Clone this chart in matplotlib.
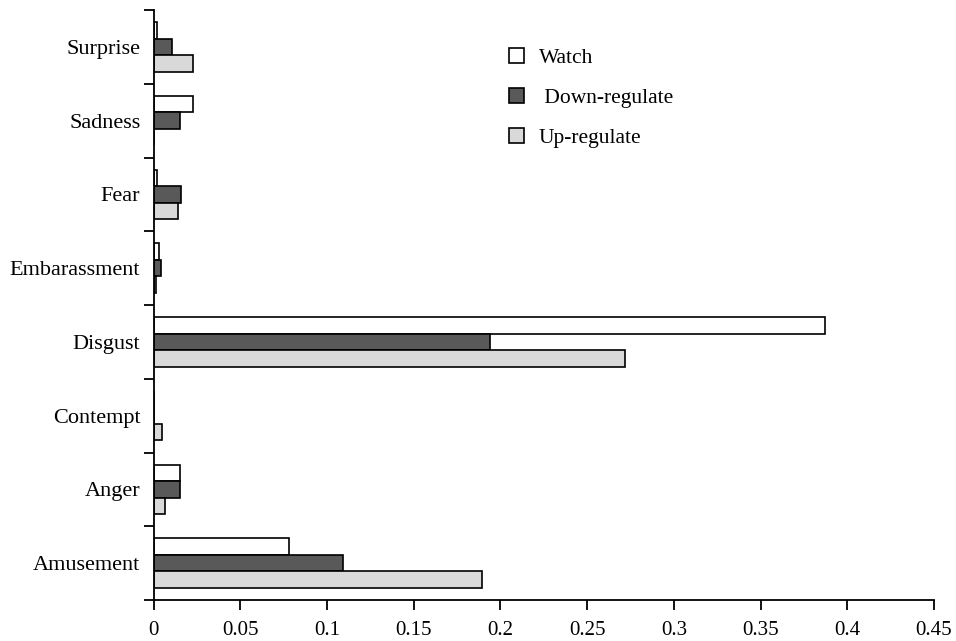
import numpy as np
import matplotlib.pyplot as plt

categories = ["Amusement", "Anger", "Contempt", "Disgust",
              "Embarassment", "Fear", "Sadness", "Surprise"]
watch = [0.0784, 0.0152, 0.0, 0.387, 0.003, 0.002, 0.0227, 0.002]
down_regulate = [0.1095, 0.0152, 0.0, 0.194, 0.0046, 0.016, 0.0152, 0.0104]
up_regulate = [0.1896, 0.0065, 0.0048, 0.272, 0.0017, 0.014, 0.0, 0.0227]
x_ticks = [0, 0.05, 0.1, 0.15, 0.2, 0.25, 0.3, 0.35, 0.4, 0.45]
x_ticklabels = ["0", "0.05", "0.1", "0.15", "0.2", "0.25", "0.3", "0.35", "0.4", "0.45"]

plt.rcParams['font.family'] = ['Liberation Serif', 'DejaVu Serif']

fig = plt.figure(figsize=(9.56, 6.41), dpi=100)
ax = fig.add_axes([153.5 / 956, 41 / 641, (934 - 153.5) / 956, 590 / 641])

y = np.arange(len(categories))
h = 0.224
kw = dict(height=h, edgecolor='black', linewidth=1.2)
ax.barh(y + h, watch, color='white', label='Watch', **kw)
ax.barh(y, down_regulate, color='#595959', label=' Down-regulate', **kw)
ax.barh(y - h, up_regulate, color='#d9d9d9', label='Up-regulate', **kw)

ax.set_xlim(0, 0.45)
ax.set_ylim(-0.5, len(categories) - 0.5)
ax.set_xticks(x_ticks)
ax.set_xticklabels(x_ticklabels, fontsize=15)

# tick marks sit between the categories, labels at the centres
ax.set_yticks(np.arange(len(categories) + 1) - 0.5)
ax.set_yticklabels([])
ax.set_yticks(y, minor=True)
ax.set_yticklabels(categories, minor=True, fontsize=16)
ax.tick_params(axis='y', which='minor', length=0, pad=9.5)
ax.tick_params(axis='y', which='major', length=7, width=1.3, direction='out')
ax.tick_params(axis='x', length=7, width=1.3, direction='out', pad=8)

for s in ['top', 'right']:
    ax.spines[s].set_visible(False)
for s in ['left', 'bottom']:
    ax.spines[s].set_linewidth(1.3)

ax.legend(loc='upper left', bbox_to_anchor=(500 / 956, 1 - 39 / 641),
          bbox_transform=fig.transFigure, frameon=False, fontsize=15.5,
          handlelength=0.72, handleheight=0.72, labelspacing=0.92,
          handletextpad=0.68, borderaxespad=0)

fig.savefig('out.png', dpi=100)
